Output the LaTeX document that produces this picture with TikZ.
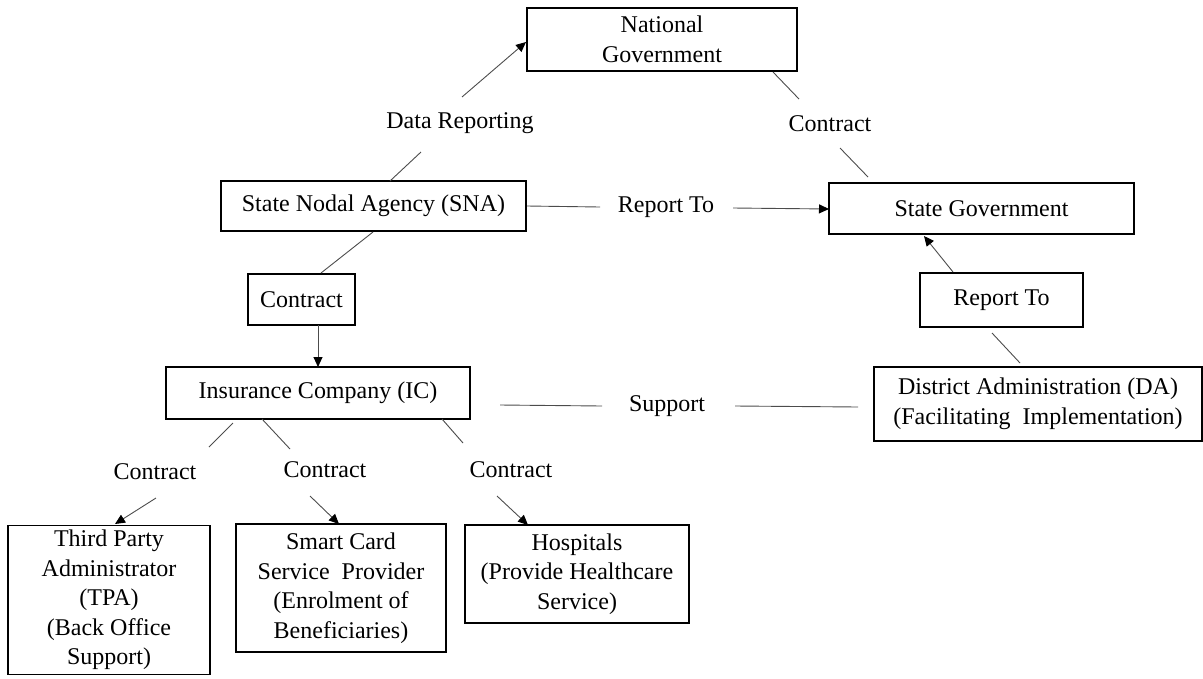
\documentclass[tikz,border=0pt]{standalone}
\usepackage{fontspec}
\setmainfont{Liberation Serif}
\usetikzlibrary{arrows.meta}
\begin{document}
\begin{tikzpicture}[x=1pt,y=-1pt,
  txt/.style={font=\fontsize{24}{29.5}\selectfont},
  box/.style={txt,draw,line width=1.5pt,inner sep=0pt,align=center},
  lbl/.style={txt,inner sep=0pt},
  conn/.style={line width=0.9pt,draw=black!70},
  arr/.style={conn,-{Triangle[length=10pt,width=9pt,color=black]}}]
\useasboundingbox (0,0) rectangle (1203,678);
% boxes
\node[box,minimum width=270pt,minimum height=63pt] (nat) at (662,39.5) {National\\Government};
\node[box,minimum width=305pt,minimum height=50pt] (sna) at (373.5,206) {State Nodal Agency (SNA)};
\node[box,minimum width=305pt,minimum height=51pt] (sg) at (981.5,208.5) {State Government};
\node[box,minimum width=107pt,minimum height=51pt] (con) at (301.5,299.5) {Contract};
\node[box,minimum width=163pt,minimum height=54pt] (rtb) at (1001.5,300) {Report To};
\node[box,minimum width=304pt,minimum height=52pt] (ic) at (318,393) {Insurance Company (IC)};
\node[box,minimum width=328pt,minimum height=74pt] (da) at (1038,404) {District Administration (DA)\\(Facilitating\ \ Implementation)};
\node[box,minimum width=202pt,minimum height=149pt] (tpa) at (109,600) {Third Party\\Administrator\\(TPA)\\(Back Office\\Support)};
\node[box,minimum width=210pt,minimum height=128pt] (scsp) at (341,588) {Smart Card\\Service\ \ Provider\\(Enrolment of\\Beneficiaries)};
\node[box,minimum width=224pt,minimum height=98pt] (hosp) at (577,574) {Hospitals\\(Provide Healthcare\\Service)};
% labels
\node[lbl] (ldr) at (460,123) {Data Reporting};
\node[lbl] (lc0) at (830,124) {Contract};
\node[lbl] (lrt) at (666,207) {Report To};
\node[lbl] (lsu) at (667,406) {Support};
\node[lbl] (lc1) at (155,472) {Contract};
\node[lbl] (lc2) at (325,470) {Contract};
\node[lbl] (lc3) at (511,470) {Contract};
% connector end points
\coordinate (p1) at (462,97);   \coordinate (q1) at (526,42);
\coordinate (p2) at (421,152);  \coordinate (q2) at (390,181);
\coordinate (p3) at (773,72);   \coordinate (q3) at (799,99);
\coordinate (p4) at (840,148);  \coordinate (q4) at (868,177);
\coordinate (p5) at (527,206);  \coordinate (q5) at (600,207);
\coordinate (p6) at (733,208);  \coordinate (q6) at (829,209);
\coordinate (p7) at (373,232);  \coordinate (q7) at (321,273);
\coordinate (p8) at (318,325);  \coordinate (q8) at (318,367);
\coordinate (p9) at (953,272);  \coordinate (q9) at (924,236);
\coordinate (p10) at (992,333); \coordinate (q10) at (1020,363);
\coordinate (p11) at (500,405); \coordinate (q11) at (602,406);
\coordinate (p12) at (735,406); \coordinate (q12) at (858,407);
\coordinate (p13) at (233,423); \coordinate (q13) at (209,447);
\coordinate (p14) at (262,419); \coordinate (q14) at (290,449);
\coordinate (p15) at (442,419); \coordinate (q15) at (463,443);
\coordinate (p16) at (156,498); \coordinate (q16) at (115,524);
\coordinate (p17) at (310,496); \coordinate (q17) at (339,524);
\coordinate (p18) at (497,496); \coordinate (q18) at (528,525);
% connectors
\draw[arr] (p1) -- (q1);
\draw[conn] (p2) -- (q2);
\draw[conn] (p3) -- (q3);
\draw[conn] (p4) -- (q4);
\draw[conn] (p5) -- (q5);
\draw[arr] (p6) -- (q6);
\draw[conn] (p7) -- (q7);
\draw[arr] (p8) -- (q8);
\draw[arr] (p9) -- (q9);
\draw[conn] (p10) -- (q10);
\draw[conn] (p11) -- (q11);
\draw[conn] (p12) -- (q12);
\draw[conn] (p13) -- (q13);
\draw[conn] (p14) -- (q14);
\draw[conn] (p15) -- (q15);
\draw[arr] (p16) -- (q16);
\draw[arr] (p17) -- (q17);
\draw[arr] (p18) -- (q18);
\end{tikzpicture}
\end{document}
